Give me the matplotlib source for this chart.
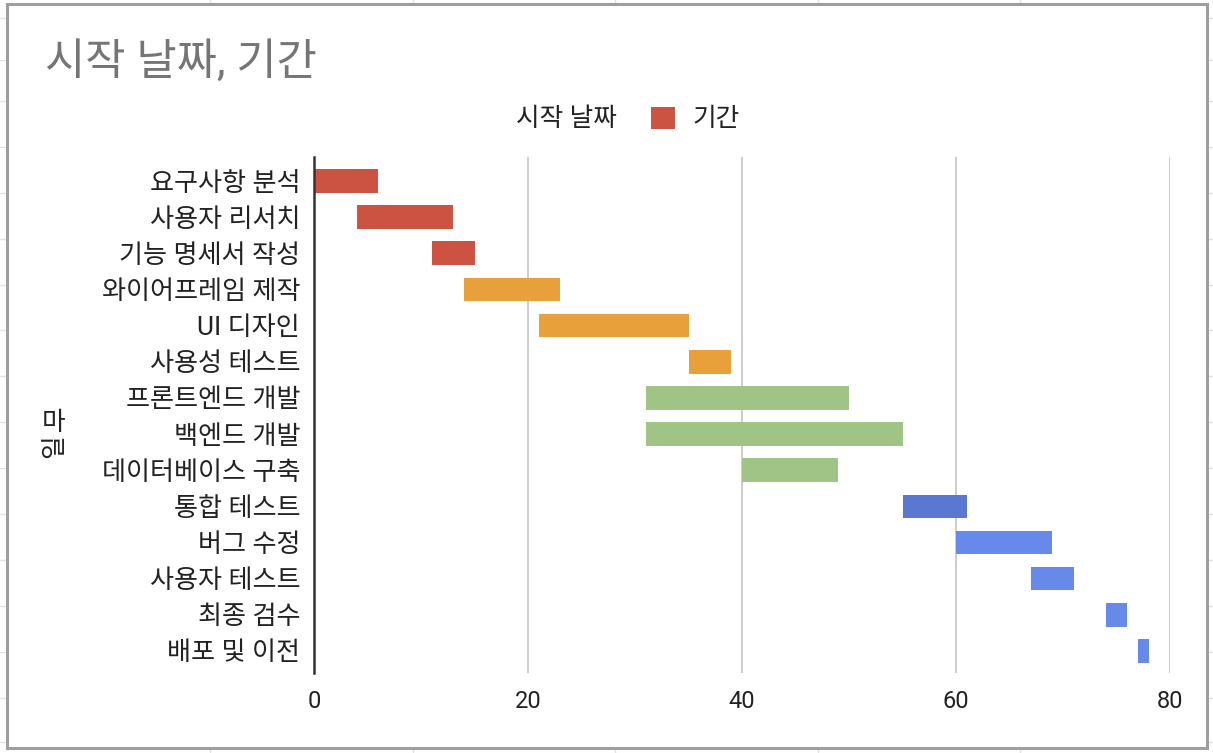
import matplotlib

matplotlib.use("Agg")
import matplotlib.pyplot as plt
import numpy as np
from matplotlib.lines import Line2D
from matplotlib.patches import Patch, Rectangle

plt.rcParams["font.family"] = ["Roboto", "Noto Sans CJK KR", "DejaVu Sans"]

tasks = [
    "요구사항 분석",
    "사용자 리서치",
    "기능 명세서 작성",
    "와이어프레임 제작",
    "UI 디자인",
    "사용성 테스트",
    "프론트엔드 개발",
    "백엔드 개발",
    "데이터베이스 구축",
    "통합 테스트",
    "버그 수정",
    "사용자 테스트",
    "최종 검수",
    "배포 및 이전",
]
start = [0, 4, 11, 14, 21, 35, 31, 31, 40, 55, 60, 67, 74, 77]
duration = [6, 9, 4, 9, 14, 4, 19, 24, 9, 6, 9, 4, 2, 1]
bar_colors = [
    "#cc5241", "#cc5241", "#cc5241",
    "#e8a03b", "#e8a03b", "#e8a03b",
    "#a0c386", "#a0c386", "#a0c386",
    "#5a78d2",
    "#6789ea", "#6789ea", "#6789ea", "#6789ea",
]
x_ticks = [0, 20, 40, 60, 80]

W, H = 1213, 753


def fx(px):
    return px / W


def fy(py):
    return 1 - py / H


fig = plt.figure(figsize=(W / 100, H / 100), dpi=100)

# spreadsheet cell lines behind the chart card
for py in [18, 60, 101, 147, 193, 239, 285, 330, 376, 422, 468, 514, 560, 606, 652, 698, 742]:
    fig.add_artist(Line2D([0, 1], [fy(py), fy(py)], color="#e2e2e2", lw=1, zorder=0.2))
for px in [210, 413, 615, 818, 1020]:
    fig.add_artist(Line2D([fx(px), fx(px)], [0, 1], color="#e2e2e2", lw=1, zorder=0.2))

# chart card
fig.add_artist(
    Rectangle(
        (fx(7), fy(748)),
        fx(1200),
        744 / H,
        transform=fig.transFigure,
        facecolor="white",
        edgecolor="#9e9e9e",
        lw=2.2,
        zorder=0.5,
    )
)

ax = fig.add_axes([fx(314), fy(673), fx(856), 516 / H])
ax.set_zorder(5)
ax.patch.set_alpha(0)

y = np.arange(len(tasks))
ax.barh(y, start, height=0.655, color="none", label="시작 날짜")
ax.barh(y, duration, left=start, height=0.655, color=bar_colors, label="기간")

ax.set_xlim(0, 80)
ax.set_ylim(13.61, -0.664)
ax.set_xticks(x_ticks)
ax.set_xticklabels([str(t) for t in x_ticks])
ax.set_yticks(y)
ax.set_yticklabels(tasks)
ax.grid(axis="x", color="#cccccc", lw=1.4)
ax.set_axisbelow(True)
for side in ["top", "right", "bottom"]:
    ax.spines[side].set_visible(False)
ax.spines["left"].set_color("#333333")
ax.spines["left"].set_linewidth(1.8)
ax.tick_params(axis="both", length=0, colors="#222222")
ax.tick_params(axis="y", pad=10, labelsize=18.8)
ax.tick_params(axis="x", pad=12, labelsize=17)

# title and axis label
fig.text(fx(45), fy(62), "시작 날짜, 기간", fontsize=31.5, color="#757575", va="center", ha="left")
fig.text(fx(54), fy(423), "마", fontsize=18.5, color="#222222", ha="center", va="center")
fig.text(fx(54), fy(446), "일", fontsize=18.5, color="#222222", ha="center", va="center", rotation=90)

handles = [
    Patch(facecolor="none", edgecolor="none", label="시작 날짜"),
    Patch(facecolor=bar_colors[0], edgecolor="none", label="기간"),
]
fig.legend(
    handles=handles,
    loc="center",
    bbox_to_anchor=(fx(607), fy(119)),
    ncol=2,
    frameon=False,
    fontsize=18.5,
    handlelength=0.95,
    handleheight=0.95,
    handletextpad=0.7,
    columnspacing=1.3,
    labelcolor="#222222",
)

fig.savefig("out.png", dpi=100)
